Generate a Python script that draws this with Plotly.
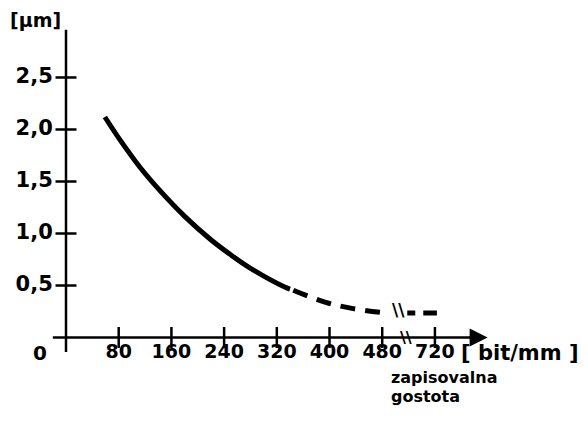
import plotly.graph_objects as go

# ---- data ----
solid_x = [59, 82, 112, 143, 181, 219, 249, 279, 332, 340]
solid_y = [2.12, 1.90, 1.64, 1.41, 1.16, 0.945, 0.80, 0.67, 0.485, 0.465]
dash_x = [345, 393, 434, 481]
dash_y = [0.455, 0.34, 0.28, 0.24]
tail_x = [518, 563]
tail_y = [0.235, 0.235]

x_tick_vals = [80, 160, 240, 320, 400, 480, 560]
x_tick_text = ["80", "160", "240", "320", "400", "480", "720"]
y_tick_vals = [0.5, 1.0, 1.5, 2.0, 2.5]
y_tick_text = ["0,5", "1,0", "1,5", "2,0", "2,5"]

BLACK = "black"
FAMILY = "DejaVu Sans"

fig = go.Figure()

# curve
fig.add_trace(go.Scatter(x=solid_x, y=solid_y, mode="lines",
                         line=dict(color=BLACK, width=5, shape="spline", smoothing=1),
                         hoverinfo="skip"))
fig.add_trace(go.Scatter(x=dash_x, y=dash_y, mode="lines",
                         line=dict(color=BLACK, width=5, shape="spline", smoothing=1,
                                   dash="15px,10px"),
                         hoverinfo="skip"))
fig.add_trace(go.Scatter(x=tail_x, y=tail_y, mode="lines",
                         line=dict(color=BLACK, width=5, dash="8px,8px,14px,10px"),
                         hoverinfo="skip"))

# axis lines
fig.add_shape(type="line", x0=-20, x1=625, y0=0, y1=0, line=dict(color=BLACK, width=2.5))
fig.add_shape(type="line", x0=0, x1=0, y0=-0.14, y1=2.96, line=dict(color=BLACK, width=2.5))

# arrow head on x axis
fig.add_annotation(x=640, y=0, ax=610, ay=0, xref="x", yref="y", axref="x", ayref="y",
                   showarrow=True, arrowhead=2, arrowsize=1.2, arrowwidth=3,
                   arrowcolor=BLACK, text="")

# cross ticks
fig.add_trace(go.Scatter(x=x_tick_vals, y=[0] * len(x_tick_vals), mode="markers",
                         marker=dict(symbol="line-ns", size=15,
                                     line=dict(color=BLACK, width=2.5)),
                         hoverinfo="skip"))
fig.add_trace(go.Scatter(x=[0] * len(y_tick_vals), y=y_tick_vals, mode="markers",
                         marker=dict(symbol="line-ew", size=15,
                                     line=dict(color=BLACK, width=2.5)),
                         hoverinfo="skip"))

# tick labels
fig.add_trace(go.Scatter(x=x_tick_vals, y=[-0.15] * len(x_tick_vals), mode="text",
                         text=[f"<b>{t}</b>" for t in x_tick_text],
                         textfont=dict(family=FAMILY, size=19, color=BLACK),
                         textposition="middle center", hoverinfo="skip"))
fig.add_trace(go.Scatter(x=[-20] * len(y_tick_vals), y=y_tick_vals, mode="text",
                         text=[f"<b>{t}</b>" for t in y_tick_text],
                         textfont=dict(family=FAMILY, size=21, color=BLACK),
                         textposition="middle left", hoverinfo="skip"))


def label(x, y, text, anchor="center", size=19, yanchor="middle"):
    fig.add_annotation(x=x, y=y, xref="x", yref="y", text=f"<b>{text}</b>",
                       showarrow=False, xanchor=anchor, yanchor=yanchor, borderpad=0,
                       font=dict(family=FAMILY, size=size, color=BLACK))


label(-40, -0.15, "0", size=20)
label(689, -0.15, "[ bit/mm ]", size=21)
label(492, -0.38, "zapisovalna", anchor="left", size=16)
label(492, -0.57, "gostota", anchor="left", size=16)
label(-47, 3.165, "[µm]", size=19, yanchor="top")

# break marks
label(516, 0, "\\\\", size=16)
label(505, 0.26, "\\\\", size=17)

fig.update_layout(
    width=588, height=430,
    margin=dict(l=0, r=0, t=0, b=0),
    paper_bgcolor="white", plot_bgcolor="white",
    showlegend=False,
    xaxis=dict(range=[-88.04, 804.5], visible=False, fixedrange=True),
    yaxis=dict(range=[-0.966, 3.168], visible=False, fixedrange=True),
)

fig.write_html("out.html")
